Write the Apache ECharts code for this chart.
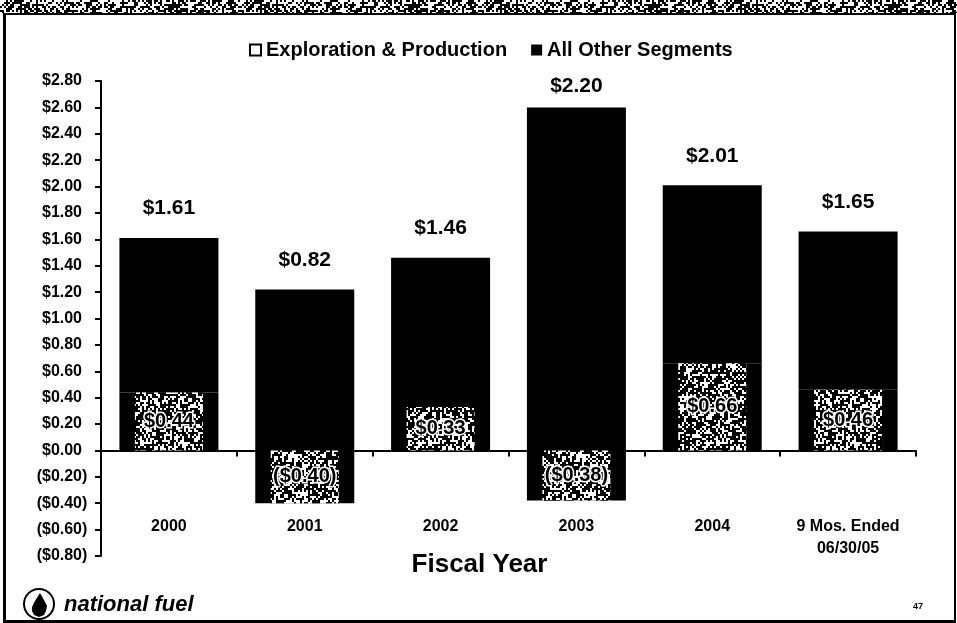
<!DOCTYPE html>
<html><head><meta charset="utf-8">
<style>html,body{margin:0;padding:0;background:#fff}#c{width:957px;height:623px}</style>
<script src="https://cdn.jsdelivr.net/npm/echarts@6/dist/echarts.min.js"></script>
</head><body><div id="c"></div>
<script>
const categories = ['2000','2001','2002','2003','2004','9 Mos. Ended\n06/30/05'];
const explorationProduction = [0.44,-0.40,0.33,-0.38,0.66,0.46];
const allOtherSegments = [1.17,1.22,1.13,2.60,1.35,1.20];
const totalLabels = ['$1.61','$0.82','$1.46','$2.20','$2.01','$1.65'];
const segmentLabels = ['$0.44','($0.40)','$0.33','($0.38)','$0.66','$0.46'];

function noise(w,h,density,cell){
  const cv=document.createElement('canvas');cv.width=w;cv.height=h;
  const g=cv.getContext('2d');g.fillStyle='#000';g.fillRect(0,0,w,h);g.fillStyle='#fff';
  for(let y=0;y<h;y+=cell)for(let x=0;x<w;x+=cell){
    const s=Math.sin(x*12.9898+y*78.233)*43758.5453;
    if(s-Math.floor(s)<density)g.fillRect(x,y,cell,cell);
  }
  return cv;
}
const stipple={type:'pattern',image:noise(96,96,0.42,2),repeat:'repeat'};
const band={type:'pattern',image:noise(240,14,0.5,2),repeat:'repeat'};
const font='"Liberation Sans", Arial, sans-serif';

const chart=echarts.init(document.getElementById('c'),null,{renderer:'canvas'});
chart.setOption({
  animation:false,
  backgroundColor:'#fff',
  textStyle:{fontFamily:font},
  legend:{
    top:35,left:244,itemGap:24,itemWidth:11,itemHeight:11,
    textStyle:{fontSize:20,fontWeight:'bold',color:'#000',fontFamily:font},
    data:[
      {name:'Exploration & Production',icon:'rect',itemStyle:{color:'#fff',borderColor:'#000',borderWidth:2}},
      {name:'All Other Segments',icon:'rect',itemStyle:{color:'#000',borderWidth:0}}
    ]
  },
  grid:{left:101,right:41,top:81,bottom:67,outerBoundsMode:'none'},
  xAxis:[{
    type:'category',data:categories,
    axisLine:{onZero:true,lineStyle:{color:'#000',width:2}},
    axisTick:{show:true,alignWithLabel:false,length:6,lineStyle:{color:'#000',width:2}},
    axisLabel:{margin:-40,fontSize:16,fontWeight:'bold',color:'#000',lineHeight:22,verticalAlign:'top',fontFamily:font,interval:0},
    name:'Fiscal Year',nameLocation:'middle',nameGap:-4,nameMoveOverlap:false,
    nameTextStyle:{fontSize:26,fontWeight:'bold',color:'#000',fontFamily:font,padding:[0,58,0,0]}
  },{
    type:'category',data:categories,show:false
  }],
  yAxis:{
    type:'value',min:-0.8,max:2.8,interval:0.2,
    splitLine:{show:false},
    axisLine:{show:true,lineStyle:{color:'#000',width:2}},
    axisTick:{show:true,length:6,lineStyle:{color:'#000',width:2}},
    axisLabel:{
      margin:39,align:'center',fontSize:16,fontWeight:'bold',color:'#000',fontFamily:font,
      formatter:v=>{const a=Math.abs(v).toFixed(2);return v<-1e-9?'($'+a+')':'$'+a;}
    }
  },
  series:[
    {name:'Exploration & Production',type:'bar',stack:'t',barWidth:99,data:explorationProduction,
     itemStyle:{color:'#000'},z:2},
    {name:'All Other Segments',type:'bar',stack:'t',barWidth:99,
     data:allOtherSegments.map((v,i)=>i===3?{value:v,label:{distance:11}}:v),
     itemStyle:{color:'#000'},z:2,
     label:{show:true,position:'top',distance:19,fontSize:21,fontWeight:'bold',color:'#000',fontFamily:font,
       formatter:p=>totalLabels[p.dataIndex]}},
    {name:'E&P shading',type:'bar',xAxisIndex:1,barWidth:68,data:explorationProduction,
     itemStyle:{color:stipple},z:3,
     label:{show:true,position:'inside',fontSize:20,fontWeight:'bold',color:'#000',fontFamily:font,
       textBorderColor:'#fff',textBorderWidth:3,
       formatter:p=>segmentLabels[p.dataIndex]}}
  ],
  graphic:[
    {type:'rect',shape:{x:0,y:0,width:957,height:13},style:{fill:band},silent:true},
    {type:'rect',shape:{x:3,y:13,width:951,height:2},style:{fill:'#000'},silent:true},
    {type:'rect',shape:{x:3,y:13,width:3,height:609},style:{fill:'#000'},silent:true},
    {type:'rect',shape:{x:954,y:13,width:2,height:609},style:{fill:'#000'},silent:true},
    {type:'rect',shape:{x:3,y:620,width:953,height:3},style:{fill:'#000'},silent:true},
    {type:'circle',shape:{cx:39,cy:604,r:15},style:{fill:'#fff',stroke:'#000',lineWidth:2},silent:true},
    {type:'polygon',shape:{points:[[40,593],[44,600],[47,606],[46,611],[44,615],[39,617],[34,615],[32,611],[32,607],[35,601]]},
      style:{fill:'#000'},silent:true},
    {type:'text',x:64,y:594,style:{text:'national fuel',font:'italic bold 22px '+font,fill:'#000'},silent:true},
    {type:'text',x:913,y:602,style:{text:'47',font:'bold 9px '+font,fill:'#000'},silent:true}
  ]
});
</script></body></html>
